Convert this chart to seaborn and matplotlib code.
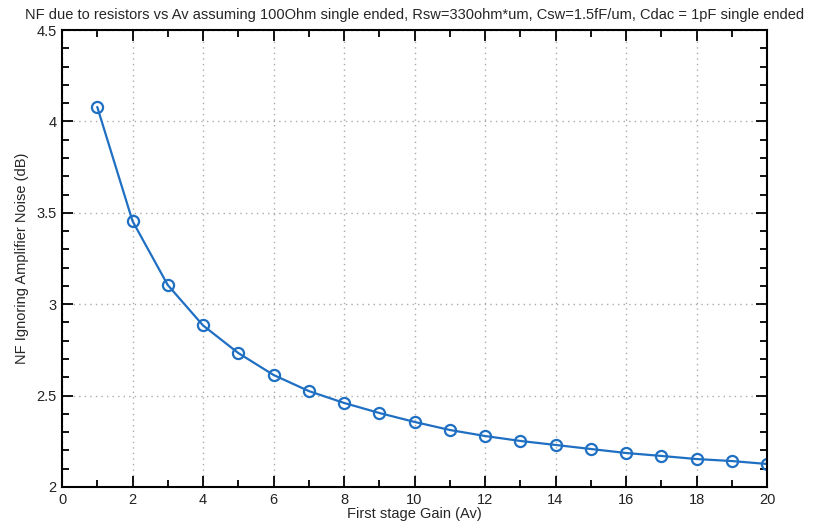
import seaborn as sns
import pandas as pd
import matplotlib.pyplot as plt
from matplotlib.ticker import MultipleLocator

# values
gain = [1, 2, 3, 4, 5, 6, 7, 8, 9, 10, 11, 12, 13, 14, 15, 16, 17, 18, 19, 20]
nf_db = [4.079, 3.455, 3.105, 2.884, 2.733, 2.613, 2.525, 2.460, 2.405, 2.356,
         2.312, 2.279, 2.252, 2.230, 2.208, 2.186, 2.170, 2.153, 2.142, 2.126]

data = pd.DataFrame({'gain': gain, 'nf': nf_db})

sns.set_style('white')
plt.rcParams['font.family'] = ['Liberation Sans', 'DejaVu Sans']

fig = plt.figure(figsize=(8.14, 5.25), dpi=100)
ax = fig.add_axes([62 / 814, 1 - 487 / 525, 705 / 814, 457 / 525])

sns.lineplot(x='gain', y='nf', data=data, ax=ax, color='#1f6fc3', linewidth=1.6,
             marker='o', markersize=8, markerfacecolor='none',
             markeredgecolor='#1f6fc3', markeredgewidth=1.6)

ax.set_xlim(0, 20)
ax.set_ylim(2, 4.5)
ax.xaxis.set_minor_locator(MultipleLocator(1))
ax.yaxis.set_minor_locator(MultipleLocator(0.1))
ax.set_xticks(range(0, 21, 2))
ax.set_yticks([2, 2.5, 3, 3.5, 4, 4.5])
ax.set_yticklabels(['2', '2.5', '3', '3.5', '4', '4.5'])

ax.tick_params(which='both', direction='in', top=True, right=True,
               bottom=True, left=True, colors='black', labelsize=10.5, pad=4)
ax.tick_params(axis='both', which='both', labelcolor='#222222')
ax.tick_params(which='major', length=8, width=1.3)
ax.tick_params(which='minor', length=5, width=1.3)
for sp in ax.spines.values():
    sp.set_color('black')
    sp.set_linewidth(1.5)

ax.grid(True, which='major', linestyle=(0, (1, 3)), color='#aaaaaa', linewidth=1.0)
ax.set_axisbelow(True)

ax.set_title('NF due to resistors vs Av assuming 100Ohm single ended, Rsw=330ohm*um, '
             'Csw=1.5fF/um, Cdac = 1pF single ended', fontsize=10.5, pad=8)
ax.set_xlabel('First stage Gain (Av)', fontsize=10.5, labelpad=0)
ax.set_ylabel('NF Ignoring Amplifier Noise (dB)', fontsize=10.5, labelpad=5)

plt.savefig('out.png', dpi=100)
